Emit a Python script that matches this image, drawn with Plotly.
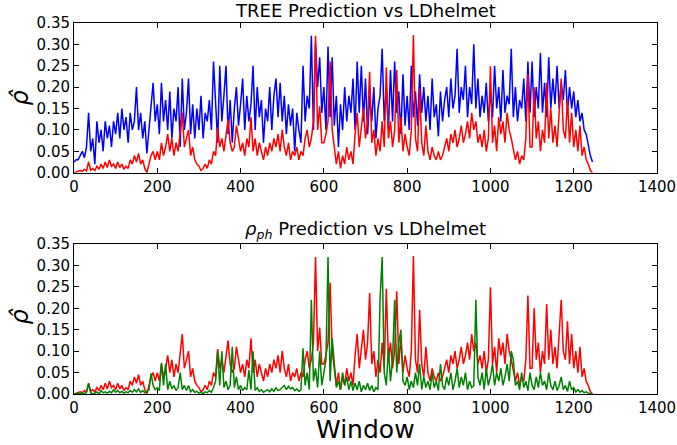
import plotly.graph_objects as go

window = list(range(0, 1250, 5))

tree_pred = [
    0.025, 0.03, 0.03, 0.04, 0.05, 0.035, 0.06, 0.14, 0.05, 0.08,
    0.02, 0.12, 0.07, 0.10, 0.05, 0.12, 0.08, 0.11, 0.06, 0.12,
    0.09, 0.14, 0.08, 0.15, 0.10, 0.13, 0.07, 0.14, 0.10, 0.12,
    0.20, 0.10, 0.14, 0.08, 0.12, 0.045, 0.10, 0.15, 0.21, 0.12,
    0.16, 0.09, 0.21, 0.12, 0.17, 0.10, 0.19, 0.08, 0.15, 0.12,
    0.20, 0.06, 0.22, 0.10, 0.14, 0.22, 0.09, 0.16, 0.08, 0.15,
    0.10, 0.18, 0.08, 0.14, 0.12, 0.17, 0.10, 0.26, 0.15, 0.07,
    0.25, 0.12, 0.18, 0.25, 0.09, 0.17, 0.07, 0.15, 0.20, 0.11,
    0.16, 0.22, 0.10, 0.18, 0.12, 0.16, 0.25, 0.10, 0.20, 0.13,
    0.17, 0.07, 0.15, 0.12, 0.20, 0.10, 0.18, 0.22, 0.13, 0.21,
    0.12, 0.18, 0.09, 0.16, 0.11, 0.15, 0.05, 0.14, 0.10, 0.07,
    0.25, 0.12, 0.18, 0.15, 0.32, 0.10, 0.30, 0.20, 0.27, 0.14,
    0.20, 0.10, 0.295, 0.13, 0.27, 0.11, 0.18, 0.06, 0.16, 0.10,
    0.20, 0.12, 0.18, 0.14, 0.22, 0.10, 0.26, 0.14, 0.25, 0.12,
    0.22, 0.09, 0.18, 0.12, 0.20, 0.08, 0.15, 0.18, 0.29, 0.12,
    0.20, 0.10, 0.24, 0.12, 0.26, 0.14, 0.19, 0.09, 0.23, 0.11,
    0.18, 0.10, 0.25, 0.13, 0.19, 0.11, 0.23, 0.14, 0.20, 0.12,
    0.18, 0.10, 0.22, 0.13, 0.16, 0.085, 0.19, 0.12, 0.17, 0.20,
    0.13, 0.22, 0.15, 0.18, 0.29, 0.14, 0.20, 0.17, 0.25, 0.13,
    0.20, 0.16, 0.30, 0.15, 0.22, 0.13, 0.18, 0.14, 0.21, 0.12,
    0.19, 0.13, 0.25, 0.15, 0.20, 0.12, 0.24, 0.14, 0.18, 0.16,
    0.29, 0.13, 0.20, 0.12, 0.17, 0.15, 0.22, 0.12, 0.26, 0.14,
    0.26, 0.13, 0.20, 0.15, 0.28, 0.14, 0.21, 0.13, 0.27, 0.15,
    0.22, 0.16, 0.25, 0.15, 0.21, 0.17, 0.24, 0.14, 0.20, 0.15,
    0.19, 0.13, 0.17, 0.12, 0.14, 0.10, 0.09, 0.06, 0.04, 0.025,
]

ldhelmet = [
    0.0, 0.002, 0.003, 0.005, 0.003, 0.008, 0.004, 0.025, 0.006, 0.01,
    0.005, 0.015, 0.008, 0.02, 0.01, 0.025, 0.012, 0.03, 0.015, 0.02,
    0.01, 0.025, 0.012, 0.02, 0.008, 0.015, 0.01, 0.03, 0.02, 0.04,
    0.025, 0.045, 0.02, 0.03, 0.01, 0.0, 0.02, 0.04, 0.05, 0.03,
    0.05, 0.03, 0.07, 0.04, 0.06, 0.09, 0.05, 0.08, 0.04, 0.07,
    0.05, 0.09, 0.14, 0.06, 0.08, 0.10, 0.04, 0.06, 0.03, 0.02,
    0.015, 0.005, 0.01, 0.02, 0.01, 0.03, 0.02, 0.05, 0.04, 0.105,
    0.06, 0.08, 0.05, 0.09, 0.125, 0.07, 0.05, 0.06, 0.11, 0.08,
    0.05, 0.07, 0.04, 0.08, 0.06, 0.13, 0.05, 0.08, 0.04, 0.07,
    0.05, 0.03, 0.06, 0.04, 0.07, 0.05, 0.08, 0.06, 0.09, 0.05,
    0.10, 0.06, 0.04, 0.07, 0.03, 0.05, 0.04, 0.06, 0.03, 0.05,
    0.04, 0.08, 0.10, 0.06, 0.08, 0.12, 0.32, 0.10, 0.155, 0.07,
    0.07, 0.09, 0.12, 0.26, 0.10, 0.06, 0.02, 0.05, 0.01, 0.04,
    0.02, 0.06, 0.03, 0.05, 0.02, 0.09, 0.14, 0.06, 0.10, 0.15,
    0.08, 0.12, 0.236, 0.07, 0.10, 0.04, 0.08, 0.05, 0.12, 0.06,
    0.246, 0.08, 0.12, 0.06, 0.10, 0.24, 0.07, 0.13, 0.05, 0.09,
    0.06, 0.04, 0.10, 0.322, 0.08, 0.05, 0.196, 0.07, 0.04, 0.11,
    0.05, 0.03, 0.06, 0.04, 0.03, 0.05, 0.03, 0.04, 0.06, 0.08,
    0.05, 0.09, 0.07, 0.10, 0.06, 0.08, 0.11, 0.07, 0.09, 0.12,
    0.08, 0.14, 0.10, 0.12, 0.07, 0.09, 0.06, 0.10, 0.05, 0.08,
    0.249, 0.07, 0.11, 0.05, 0.13, 0.09, 0.12, 0.07, 0.14, 0.10,
    0.08, 0.05, 0.03, 0.05, 0.02, 0.04, 0.03, 0.08, 0.23, 0.06,
    0.06, 0.20, 0.08, 0.12, 0.05, 0.10, 0.07, 0.21, 0.08, 0.15,
    0.07, 0.11, 0.06, 0.14, 0.22, 0.10, 0.08, 0.17, 0.07, 0.14,
    0.06, 0.10, 0.05, 0.11, 0.04, 0.06, 0.03, 0.02, 0.005, 0.0,
]

rho_ph_pred = [
    0.0, 0.0, 0.002, 0.0, 0.003, 0.0, 0.005, 0.025, 0.003, 0.0,
    0.002, 0.005, 0.0, 0.008, 0.003, 0.005, 0.002, 0.006, 0.003, 0.01,
    0.004, 0.008, 0.003, 0.006, 0.002, 0.005, 0.003, 0.008, 0.004, 0.01,
    0.005, 0.012, 0.004, 0.008, 0.003, 0.006, 0.01, 0.048, 0.02, 0.01,
    0.015, 0.008, 0.073, 0.02, 0.07, 0.01, 0.03, 0.012, 0.02, 0.008,
    0.015, 0.05, 0.01, 0.02, 0.008, 0.02, 0.005, 0.01, 0.004, 0.006,
    0.002, 0.004, 0.001, 0.005, 0.003, 0.008, 0.004, 0.015, 0.03, 0.10,
    0.02, 0.10, 0.015, 0.03, 0.01, 0.02, 0.11, 0.015, 0.04, 0.01,
    0.02, 0.008, 0.015, 0.01, 0.056, 0.01, 0.10, 0.008, 0.015, 0.006,
    0.01, 0.004, 0.008, 0.01, 0.005, 0.012, 0.006, 0.015, 0.008, 0.01,
    0.015, 0.02, 0.01, 0.018, 0.012, 0.015, 0.008, 0.012, 0.006, 0.01,
    0.107, 0.02, 0.05, 0.01, 0.22, 0.03, 0.06, 0.015, 0.10, 0.02,
    0.05, 0.08, 0.32, 0.03, 0.13, 0.07, 0.015, 0.03, 0.01, 0.05,
    0.02, 0.04, 0.01, 0.03, 0.008, 0.025, 0.01, 0.03, 0.005, 0.02,
    0.01, 0.025, 0.008, 0.02, 0.005, 0.015, 0.01, 0.223, 0.32, 0.05,
    0.02, 0.107, 0.03, 0.08, 0.22, 0.05, 0.12, 0.15, 0.03, 0.02,
    0.04, 0.01, 0.03, 0.015, 0.05, 0.02, 0.07, 0.01, 0.04, 0.015,
    0.03, 0.01, 0.05, 0.015, 0.03, 0.008, 0.07, 0.02, 0.01, 0.04,
    0.02, 0.05, 0.01, 0.03, 0.06, 0.015, 0.04, 0.02, 0.05, 0.01,
    0.03, 0.015, 0.02, 0.22, 0.04, 0.02, 0.05, 0.01, 0.06, 0.02,
    0.04, 0.07, 0.02, 0.05, 0.03, 0.06, 0.02, 0.04, 0.07, 0.03,
    0.10, 0.08, 0.02, 0.03, 0.01, 0.05, 0.015, 0.03, 0.008, 0.05,
    0.02, 0.01, 0.04, 0.015, 0.05, 0.02, 0.03, 0.01, 0.05, 0.02,
    0.01, 0.03, 0.008, 0.02, 0.04, 0.01, 0.02, 0.006, 0.03, 0.01,
    0.015, 0.005, 0.01, 0.004, 0.008, 0.003, 0.005, 0.002, 0.0, 0.0,
]

x_ticks = [0, 200, 400, 600, 800, 1000, 1200, 1400]
y_ticks = [0.0, 0.05, 0.10, 0.15, 0.20, 0.25, 0.30, 0.35]

FONT = "DejaVu Sans"
BLUE = "#0000ff"
RED = "#ff0000"
GREEN = "#008000"

fig = go.Figure()
fig.add_trace(go.Scatter(x=window, y=tree_pred, mode="lines",
                         line=dict(color=BLUE, width=1.5), xaxis="x", yaxis="y"))
fig.add_trace(go.Scatter(x=window, y=ldhelmet, mode="lines",
                         line=dict(color=RED, width=1.5), xaxis="x", yaxis="y"))
fig.add_trace(go.Scatter(x=window, y=ldhelmet, mode="lines",
                         line=dict(color=RED, width=1.5), xaxis="x2", yaxis="y2"))
fig.add_trace(go.Scatter(x=window, y=rho_ph_pred, mode="lines",
                         line=dict(color=GREEN, width=1.5), xaxis="x2", yaxis="y2"))

ax_common = dict(showline=True, linecolor="black", linewidth=1, mirror="ticks",
                 ticks="inside", ticklen=5, tickcolor="black", showgrid=False,
                 zeroline=False, automargin=False,
                 tickfont=dict(family=FONT, size=15, color="black"))

fig.update_layout(
    width=677, height=445,
    margin=dict(l=74, r=20, t=23, b=51),
    paper_bgcolor="white", plot_bgcolor="white",
    showlegend=False,
    font=dict(family=FONT, color="black"),
    xaxis=dict(domain=[0, 1], range=[0, 1400], tickvals=x_ticks, anchor="y", **ax_common),
    yaxis=dict(domain=[0.5965, 1.0], range=[0, 0.35], tickvals=y_ticks,
               tickformat=".2f", anchor="x", **ax_common),
    xaxis2=dict(domain=[0, 1], range=[0, 1400], tickvals=x_ticks, anchor="y2", **ax_common),
    yaxis2=dict(domain=[0.0, 0.404], range=[0, 0.35], tickvals=y_ticks,
                tickformat=".2f", anchor="x2", **ax_common),
)

fig.add_annotation(text="TREE Prediction vs LDhelmet", x=0.5, y=1.0, xref="paper",
                   yref="paper", xanchor="center", yanchor="bottom", yshift=0,
                   showarrow=False, font=dict(family=FONT, size=18, color="black"))
fig.add_annotation(text="<i>ρ</i><sub><i>ph</i></sub> Prediction vs LDhelmet", x=0.5, y=0.404,
                   xref="paper", yref="paper", xanchor="center", yanchor="bottom", yshift=0,
                   showarrow=False, font=dict(family=FONT, size=18, color="black"))
fig.add_annotation(text="<i>ρ̂</i>", x=-0.092, y=0.80, xref="paper", yref="paper",
                   textangle=-90, showarrow=False, xanchor="center", yanchor="middle",
                   font=dict(family=FONT, size=24, color="black"))
fig.add_annotation(text="<i>ρ̂</i>", x=-0.092, y=0.21, xref="paper", yref="paper",
                   textangle=-90, showarrow=False, xanchor="center", yanchor="middle",
                   font=dict(family=FONT, size=24, color="black"))
fig.add_annotation(text="Window", x=0.5, y=-0.096, xref="paper", yref="paper",
                   xanchor="center", yanchor="middle", showarrow=False,
                   font=dict(family=FONT, size=25, color="black"))

fig.write_html("out.html", config={"displayModeBar": False},
               post_script="document.body.style.margin='0';document.body.style.overflow='hidden';")
